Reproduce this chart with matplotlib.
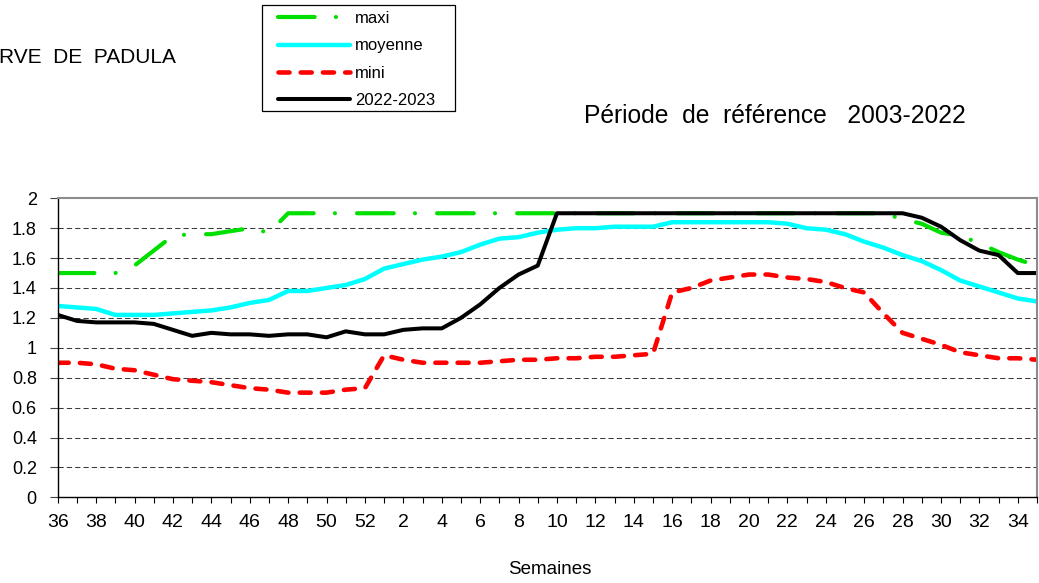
import matplotlib
matplotlib.use("Agg")
import matplotlib.pyplot as plt
from matplotlib.patches import Rectangle

plt.rcParams['font.family'] = ['Liberation Sans', 'DejaVu Sans']

# semaines hydrologiques : 36 -> 52 puis 1 -> 35
semaines = list(range(36, 53)) + list(range(1, 36))

maxi = [1.50, 1.50, 1.50, 1.50, 1.55, 1.65, 1.75, 1.76, 1.76, 1.78,
        1.80, 1.77, 1.90, 1.90, 1.90, 1.90, 1.90, 1.90, 1.90, 1.90,
        1.90, 1.90, 1.90, 1.90, 1.90, 1.90, 1.90, 1.90, 1.90, 1.90,
        1.90, 1.90, 1.90, 1.90, 1.90, 1.90, 1.90, 1.90, 1.90, 1.90,
        1.90, 1.90, 1.90, 1.90, 1.86, 1.83, 1.77, 1.75, 1.70, 1.64,
        1.59, 1.55]

moyenne = [1.28, 1.27, 1.26, 1.22, 1.22, 1.22, 1.23, 1.24, 1.25, 1.27,
           1.30, 1.32, 1.38, 1.38, 1.40, 1.42, 1.46, 1.53, 1.56, 1.59,
           1.61, 1.64, 1.69, 1.73, 1.74, 1.77, 1.79, 1.80, 1.80, 1.81,
           1.81, 1.81, 1.84, 1.84, 1.84, 1.84, 1.84, 1.84, 1.83, 1.80,
           1.79, 1.76, 1.71, 1.67, 1.62, 1.58, 1.52, 1.45, 1.41, 1.37,
           1.33, 1.31]

mini = [0.90, 0.90, 0.89, 0.86, 0.85, 0.82, 0.79, 0.78, 0.77, 0.75,
        0.73, 0.72, 0.70, 0.70, 0.70, 0.72, 0.73, 0.95, 0.92, 0.90,
        0.90, 0.90, 0.90, 0.91, 0.92, 0.92, 0.93, 0.93, 0.94, 0.94,
        0.95, 0.96, 1.37, 1.40, 1.45, 1.47, 1.49, 1.49, 1.47, 1.46,
        1.44, 1.40, 1.37, 1.23, 1.10, 1.06, 1.02, 0.97, 0.95, 0.93,
        0.93, 0.92]

annee = [1.22, 1.18, 1.17, 1.17, 1.17, 1.16, 1.12, 1.08, 1.10, 1.09,
         1.09, 1.08, 1.09, 1.09, 1.07, 1.11, 1.09, 1.09, 1.12, 1.13,
         1.13, 1.20, 1.29, 1.40, 1.49, 1.55, 1.90, 1.90, 1.90, 1.90,
         1.90, 1.90, 1.90, 1.90, 1.90, 1.90, 1.90, 1.90, 1.90, 1.90,
         1.90, 1.90, 1.90, 1.90, 1.90, 1.87, 1.81, 1.72, 1.65, 1.62,
         1.50, 1.50]

y_ticks = [0, 0.2, 0.4, 0.6, 0.8, 1, 1.2, 1.4, 1.6, 1.8, 2]
y_labels = ['0', '0.2', '0.4', '0.6', '0.8', '1', '1.2', '1.4', '1.6', '1.8', '2']

W, H = 1039, 583
fig = plt.figure(figsize=(W / 100, H / 100), dpi=100)
ax = fig.add_axes([57.7 / W, (H - 497.3) / H, (1037 - 57.7) / W, 299 / H])

x = list(range(len(semaines)))

ax.hlines(y_ticks[1:-1], 0, len(x) - 1, colors='#3a3a3a',
          linewidth=0.75, linestyles=(0, (5, 3)), zorder=0.5)

l_maxi, = ax.plot(x, maxi, color='#00e000', lw=3.0,
                  dashes=(8.8, 5.1, 0.01, 5.3),
                  dash_capstyle='round', dash_joinstyle='round', label='maxi')
l_moy, = ax.plot(x, moyenne, color='#00ffff', lw=3.2,
                 solid_capstyle='round', solid_joinstyle='round', label='moyenne')
l_mini, = ax.plot(x, mini, color='#ff0000', lw=3.3, dashes=(2.4, 2.45),
                  dash_capstyle='round', dash_joinstyle='round', label='mini')
l_an, = ax.plot(x, annee, color='black', lw=2.9,
                solid_capstyle='round', solid_joinstyle='round', label='2022-2023')

ax.set_xlim(0, len(x) - 1)
ax.set_ylim(0, 2)
ax.set_xticks(x)
ax.set_xticklabels([str(s) if i % 2 == 0 else '' for i, s in enumerate(semaines)],
                   fontsize=14)
ax.set_yticks(y_ticks)
ax.set_yticklabels(y_labels, fontsize=13)
ax.tick_params(axis='x', direction='out', length=4, width=0.8, pad=8)
ax.tick_params(axis='y', direction='out', length=6, width=0.8, pad=9,
               color='#444444')

for side in ('left', 'bottom'):
    ax.spines[side].set_color('black')
    ax.spines[side].set_linewidth(1.0)
for side in ('top', 'right'):
    ax.spines[side].set_color('#8c8c8c')
    ax.spines[side].set_linewidth(1.5)

# textes
fig.text(-1 / W, 1 - 63 / H, 'RVE  DE  PADULA', fontsize=15,
         ha='left', va='baseline')
fig.text(584 / W, 1 - 123 / H, 'Période  de  référence   2003-2022',
         fontsize=17.7, ha='left', va='baseline')
fig.text(550 / W, 1 - 570 / H, 'Semaines', fontsize=13.5,
         ha='center', va='center')

# légende encadrée
fig.add_artist(Rectangle((262 / W, 1 - 111 / H), 193 / W, 106 / H,
                         transform=fig.transFigure, fill=False,
                         edgecolor='black', linewidth=0.9))
fig.legend(handles=[l_maxi, l_moy, l_mini, l_an], loc='upper left',
           bbox_to_anchor=(278 / W, 1 - 11 / H), frameon=False,
           fontsize=12, handlelength=4.3, handletextpad=0.3,
           labelspacing=0.74, borderpad=0, borderaxespad=0)

fig.savefig('out.png', dpi=100)
